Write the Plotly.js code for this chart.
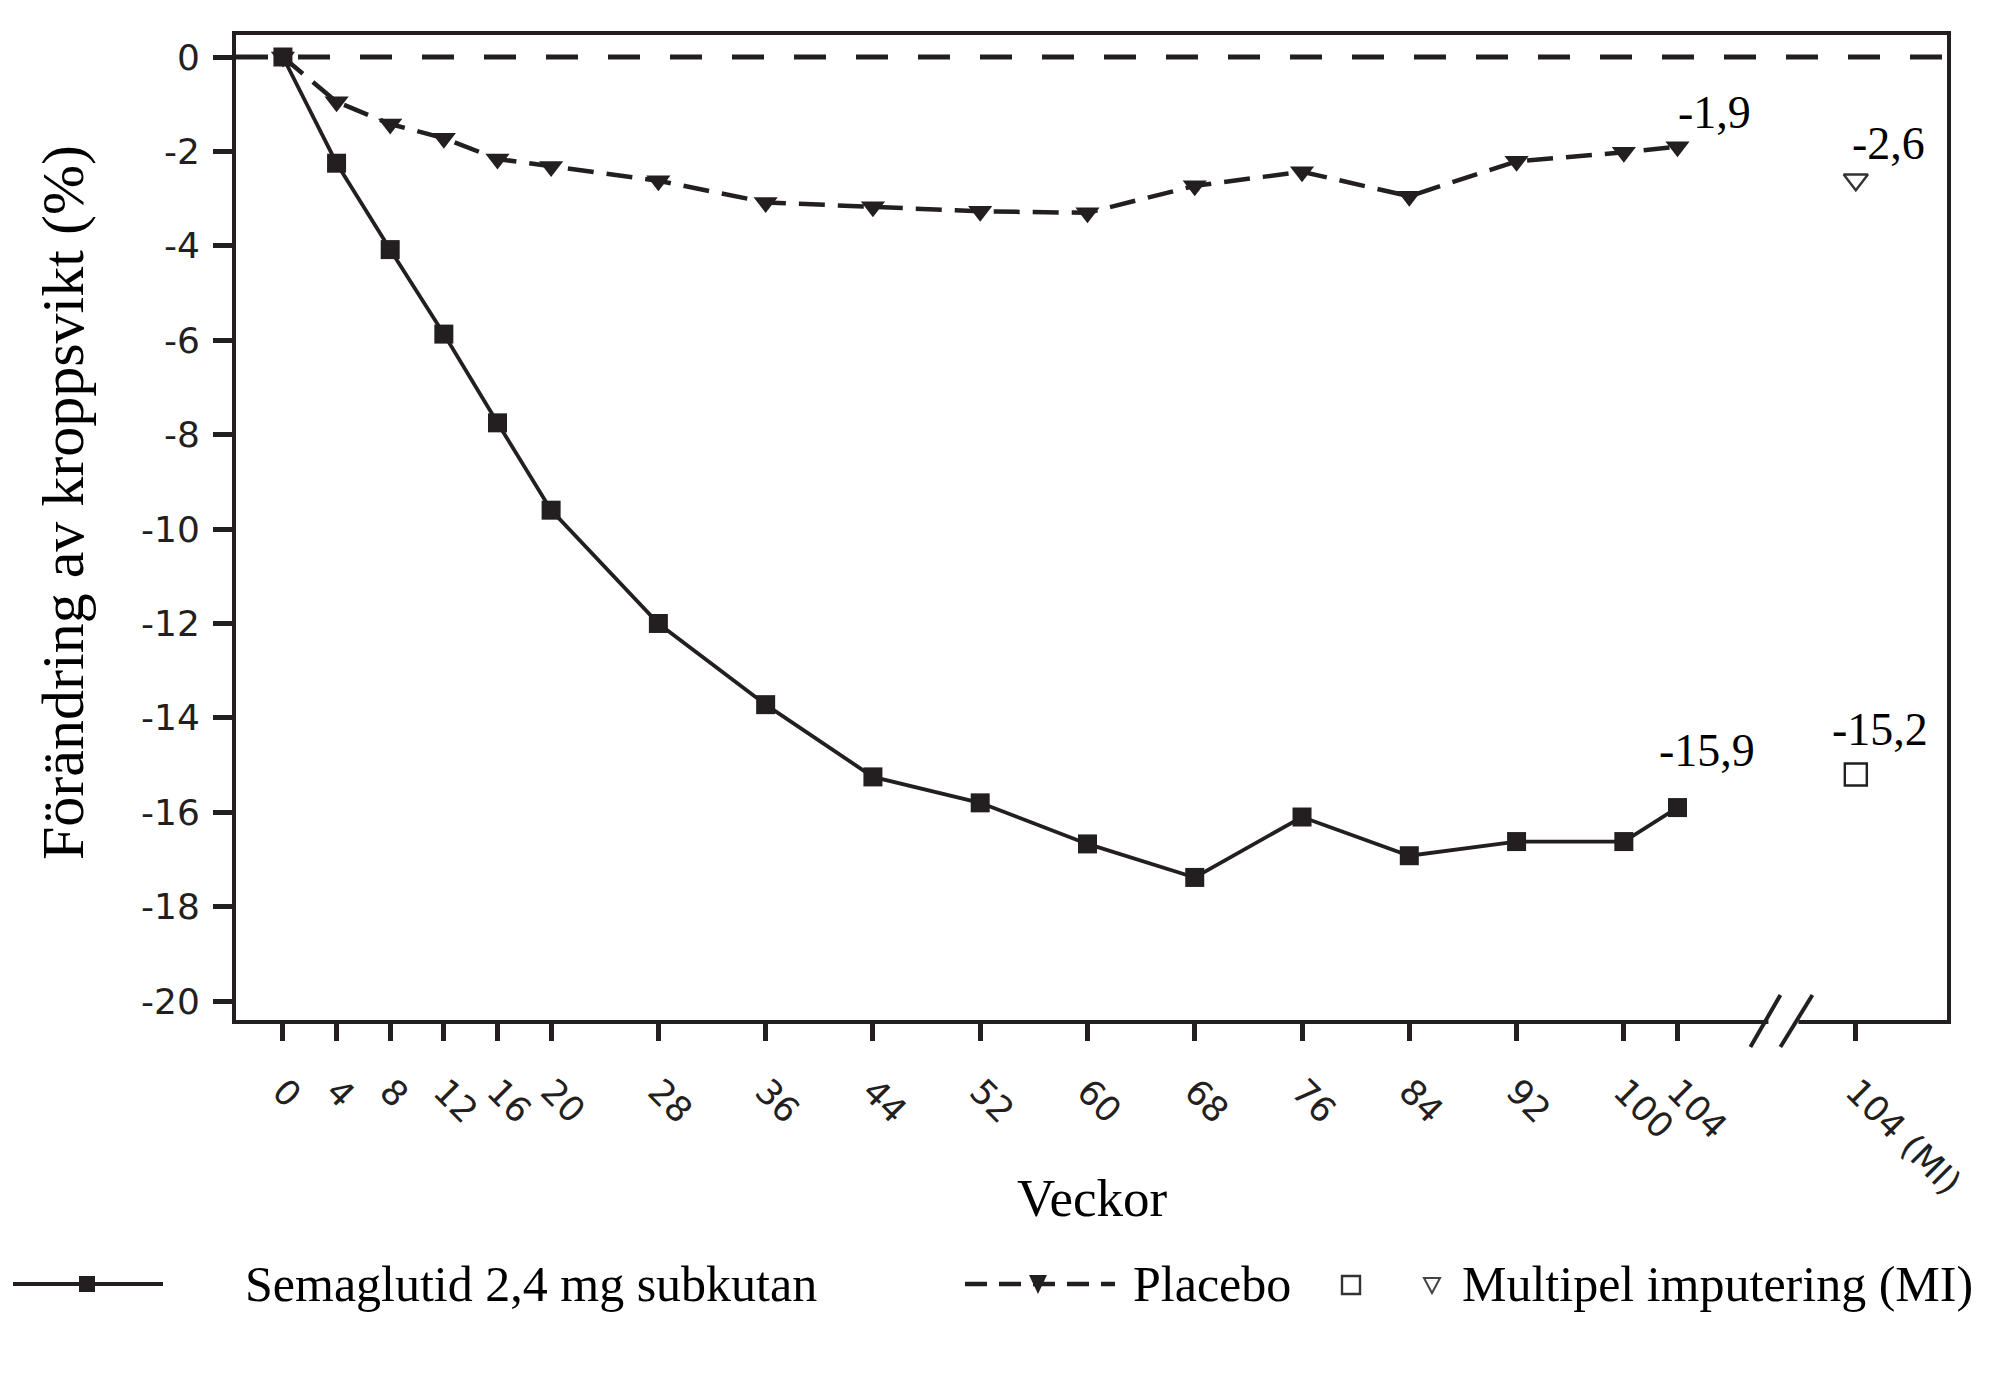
<!DOCTYPE html>
<html>
<head>
<meta charset="utf-8">
<script src="https://cdn.plot.ly/plotly-3.0.1.min.js"></script>
<style>
  html, body { margin: 0; padding: 0; background: #ffffff; }
  #chart { width: 2014px; height: 1399px; }
</style>
</head>
<body>
<div id="chart"></div>
<script>
// ---- data ----
const weeks = [0, 4, 8, 12, 16, 20, 28, 36, 44, 52, 60, 68, 76, 84, 92, 100, 104];
const semaglutide = [0, -2.25, -4.08, -5.87, -7.75, -9.6, -12.0, -13.72, -15.25, -15.8, -16.67, -17.38, -16.1, -16.92, -16.62, -16.62, -15.9];
const placebo = [0, -0.95, -1.42, -1.72, -2.16, -2.32, -2.62, -3.08, -3.17, -3.27, -3.3, -2.73, -2.43, -2.95, -2.21, -2.02, -1.9];
const miLabel = '104 (MI)';
const miSemaglutide = -15.2;
const miPlacebo = -2.6;
const yTicks = [0, -2, -4, -6, -8, -10, -12, -14, -16, -18, -20];
const seriesNames = ['Semaglutid 2,4 mg subkutan', 'Placebo', 'Multipel imputering (MI)'];
const xTitle = 'Veckor';
const yTitle = 'Förändring av kroppsvikt (%)';

// ---- layout constants ----
const MI_X = 117.3;        // axis position of the "104 (MI)" category (after the break)
const BREAK_X = 111.9;     // axis position of the break mark
const X_RANGE = [-3.5, 124.1];
const Y_RANGE = [-20.4, 0.466];
const INK = '#231f20';
const SERIF = '"Liberation Serif", "Times New Roman", serif';
const SANS = '"DejaVu Sans", sans-serif';

const fmt = v => v.toFixed(1).replace('.', ',');
const tickVals = weeks.concat([MI_X]);
const tickText = weeks.map(String).concat([miLabel]);
const last = weeks.length - 1;
const breakPaper = (BREAK_X - X_RANGE[0]) / (X_RANGE[1] - X_RANGE[0]);

const traces = [
  {
    x: weeks, y: placebo, type: 'scatter', mode: 'lines+markers', name: seriesNames[1],
    line: { color: INK, width: 4.5, dash: '26px,13px' },
    marker: { symbol: 'triangle-down', size: 21, color: INK, line: { width: 0 } },
    showlegend: false
  },
  {
    x: weeks, y: semaglutide, type: 'scatter', mode: 'lines+markers', name: seriesNames[0],
    line: { color: INK, width: 3.8 },
    marker: { symbol: 'square', size: 19, color: INK, line: { width: 0 } },
    showlegend: false
  },
  {
    x: [MI_X], y: [miSemaglutide], type: 'scatter', mode: 'markers', name: seriesNames[2],
    marker: { symbol: 'square-open', size: 22, color: INK, line: { width: 2.4, color: INK } },
    showlegend: false
  },
  {
    x: [MI_X], y: [miPlacebo], type: 'scatter', mode: 'markers', name: seriesNames[2],
    marker: { symbol: 'triangle-down-open', size: 21, color: '#333333', line: { width: 2.4, color: '#333333' } },
    showlegend: false
  }
];

// legend drawn manually (pixel offsets from plot's bottom-left corner)
const LEG_Y = -264;
function pxShape(extra) {
  return Object.assign({
    xref: 'paper', yref: 'paper', xsizemode: 'pixel', ysizemode: 'pixel',
    xanchor: 0, yanchor: 0, layer: 'above'
  }, extra);
}

const shapes = [
  // dashed zero reference line
  { type: 'line', xref: 'x', yref: 'y', x0: X_RANGE[0], x1: X_RANGE[1], y0: 0, y1: 0,
    line: { color: INK, width: 5, dash: '32px,30px' }, layer: 'below' },
  // axis break: white gap + two slashes
  pxShape({ type: 'rect', xanchor: breakPaper, x0: -15, x1: 15, y0: -6, y1: 6,
    fillcolor: '#ffffff', line: { width: 0 } }),
  pxShape({ type: 'line', xanchor: breakPaper, x0: -33, y0: -27, x1: -3, y1: 25,
    line: { color: INK, width: 4 } }),
  pxShape({ type: 'line', xanchor: breakPaper, x0: -3, y0: -27, x1: 29, y1: 25,
    line: { color: INK, width: 4 } }),
  // legend: semaglutide
  pxShape({ type: 'line', x0: -223, x1: -73, y0: LEG_Y, y1: LEG_Y, line: { color: INK, width: 4 } }),
  pxShape({ type: 'rect', x0: -157, x1: -141, y0: LEG_Y - 8, y1: LEG_Y + 8, fillcolor: INK, line: { width: 0 } }),
  // legend: placebo
  pxShape({ type: 'line', x0: 729, x1: 879, y0: LEG_Y, y1: LEG_Y, line: { color: INK, width: 4.5, dash: '22px,12px' } }),
  pxShape({ type: 'path', path: 'M 793 ' + (LEG_Y + 9) + ' L 811 ' + (LEG_Y + 9) + ' L 802 ' + (LEG_Y - 10) + ' Z',
    fillcolor: INK, line: { width: 0 } }),
  // legend: MI symbols
  pxShape({ type: 'rect', x0: 1106, x1: 1124, y0: LEG_Y - 10, y1: LEG_Y + 8, fillcolor: 'rgba(0,0,0,0)',
    line: { color: '#333333', width: 2.4 } }),
  pxShape({ type: 'path', path: 'M 1188 ' + (LEG_Y + 6) + ' L 1204 ' + (LEG_Y + 6) + ' L 1196 ' + (LEG_Y - 9) + ' Z',
    fillcolor: 'rgba(0,0,0,0)', line: { color: '#444444', width: 2 } })
];

const valFont = { family: SERIF, size: 46, color: '#000000' };
const legFont = { family: SERIF, size: 50, color: '#000000' };
const annotations = [
  { x: weeks[last], y: placebo[last], xref: 'x', yref: 'y', text: fmt(placebo[last]), showarrow: false,
    xshift: 37, yshift: 34, font: valFont },
  { x: weeks[last], y: semaglutide[last], xref: 'x', yref: 'y', text: fmt(semaglutide[last]), showarrow: false,
    xshift: 30, yshift: 57, font: valFont },
  { x: MI_X, y: miPlacebo, xref: 'x', yref: 'y', text: fmt(miPlacebo), showarrow: false,
    xshift: 33, yshift: 36, font: valFont },
  { x: MI_X, y: miSemaglutide, xref: 'x', yref: 'y', text: fmt(miSemaglutide), showarrow: false,
    xshift: 24, yshift: 45, font: valFont },
  // legend texts
  { x: 0, y: 0, xref: 'paper', yref: 'paper', xanchor: 'left', yanchor: 'middle', xshift: 7, yshift: LEG_Y,
    text: seriesNames[0], showarrow: false, font: legFont },
  { x: 0, y: 0, xref: 'paper', yref: 'paper', xanchor: 'left', yanchor: 'middle', xshift: 895, yshift: LEG_Y,
    text: seriesNames[1], showarrow: false, font: legFont },
  { x: 0, y: 0, xref: 'paper', yref: 'paper', xanchor: 'left', yanchor: 'middle', xshift: 1224, yshift: LEG_Y,
    text: seriesNames[2], showarrow: false, font: legFont },
  // axis titles
  { x: 0.5, y: 0, xref: 'paper', yref: 'paper', xanchor: 'center', yanchor: 'middle', yshift: -178,
    text: xTitle, showarrow: false, font: { family: SERIF, size: 53, color: '#000000' } },
  { x: 0, y: 0, xref: 'paper', yref: 'paper', xanchor: 'center', yanchor: 'middle', xshift: -173, yshift: 517,
    textangle: -90, text: yTitle, showarrow: false, font: { family: SERIF, size: 60, color: '#000000' } }
];

const layout = {
  width: 2014, height: 1399,
  margin: { l: 236, r: 67, t: 35, b: 379, pad: 0 },
  paper_bgcolor: '#ffffff', plot_bgcolor: '#ffffff',
  showlegend: false,
  xaxis: {
    range: X_RANGE, tickmode: 'array', tickvals: tickVals, ticktext: tickText,
    tickangle: 45, ticks: 'outside', ticklen: 17, tickwidth: 5, tickcolor: INK,
    ticklabelstandoff: 16,
    showline: true, linewidth: 4, linecolor: INK, mirror: true,
    showgrid: false, zeroline: false, automargin: false,
    tickfont: { family: SANS, size: 35, color: INK }
  },
  yaxis: {
    range: Y_RANGE, tickmode: 'array', tickvals: yTicks, ticktext: yTicks.map(String),
    ticks: 'outside', ticklen: 19, tickwidth: 5, tickcolor: INK,
    ticklabelstandoff: 6,
    showline: true, linewidth: 4, linecolor: INK, mirror: true,
    showgrid: false, zeroline: false, automargin: false,
    tickfont: { family: SANS, size: 36, color: INK }
  },
  shapes: shapes,
  annotations: annotations
};

Plotly.newPlot('chart', traces, layout, { displayModeBar: false, staticPlot: true });
</script>
</body>
</html>
